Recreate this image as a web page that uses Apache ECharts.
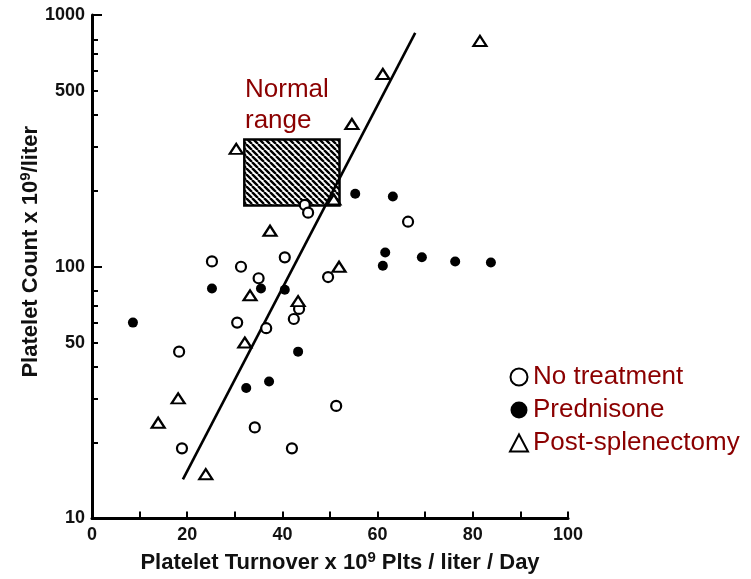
<!DOCTYPE html>
<html><head><meta charset="utf-8">
<script src="https://cdn.jsdelivr.net/npm/echarts@6/dist/echarts.min.js"></script>
<style>html,body{margin:0;padding:0;background:#fff}#c{width:751px;height:579px}</style>
</head><body><div id="c"></div>
<script>
// ---- data ----
const xLabelStep = 20;
const yTickValues = [10,20,30,40,50,60,70,80,100,200,300,400,500,600,700,800,1000];
const yDecadeTicks = [10,100,1000];
const yLabelValues = [10,50,100,500,1000];

const noTreatX = [25.2, 31.3, 35.0, 40.5, 30.5, 36.6, 43.5, 42.4, 49.6, 18.3, 18.9, 34.2, 42.0, 51.3, 44.7, 45.4, 66.4];
const noTreatY = [105, 100, 90, 109, 60, 57, 68, 62, 91, 46, 19, 23, 19, 28, 176, 164, 151];
const predX = [8.6, 25.2, 35.5, 40.5, 43.3, 37.2, 32.4, 55.3, 63.2, 61.6, 61.1, 69.3, 76.3, 83.8];
const predY = [60, 82, 82, 81, 46, 35, 33, 195, 190, 114, 101, 109, 105, 104];
const splenX = [81.5, 61.1, 54.6, 30.3, 50.8, 37.4, 51.9, 33.2, 43.3, 32.1, 18.1, 13.9, 23.9];
const splenY = [789, 583, 369, 294, 185, 139, 100, 77, 73, 50, 30, 24, 15];

const fitX = [19.1, 67.9];
const fitY = [14.3, 849];

const normalX = [32, 52];
const normalY = [175, 320];

const seriesNames = ['No treatment', 'Prednisone', 'Post-splenectomy'];

// ---- helpers ----
const zip = (a, b) => a.map((v, i) => [v, b[i]]);
function hatch() {
  const s = 6, c = document.createElement('canvas');
  c.width = s; c.height = s;
  const g = c.getContext('2d');
  g.fillStyle = '#fff'; g.fillRect(0, 0, s, s);
  g.strokeStyle = '#000'; g.lineWidth = 2.4; g.beginPath();
  for (let k = -1; k <= 1; k++) { g.moveTo(k * s, 0); g.lineTo(k * s + s, s); }
  g.stroke();
  return c;
}

const axisFont = { fontFamily: 'Liberation Sans', fontWeight: 'bold', fontSize: 18, color: '#111' };
const red = '#8b0000';

const chart = echarts.init(document.getElementById('c'), null, { renderer: 'canvas' });
chart.setOption({
  animation: false,
  backgroundColor: '#fff',
  grid: { left: 92, right: 183, top: 15, bottom: 60, containLabel: false },
  xAxis: {
    type: 'value', min: 0, max: 100, interval: 10,
    name: 'Platelet Turnover x 10{sup|9} Plts / liter / Day',
    nameLocation: 'middle', nameGap: 32,
    nameTextStyle: {
      fontFamily: 'Liberation Sans', fontWeight: 'bold', fontSize: 22, color: '#111',
      padding: [0, 0, 0, 20],
      rich: { sup: { fontFamily: 'Liberation Sans', fontWeight: 'bold', fontSize: 15, color: '#111', verticalAlign: 'top', padding: [0, 0, 10, 0] } }
    },
    axisLine: { lineStyle: { color: '#000', width: 3 } },
    axisTick: { inside: true, length: 7, lineStyle: { color: '#000', width: 2 } },
    axisLabel: Object.assign({ margin: 8, formatter: v => (v % xLabelStep === 0 ? String(v) : '') }, axisFont),
    splitLine: { show: false }
  },
  yAxis: [{
    type: 'log', logBase: 10, min: 10, max: 1000,
    name: 'Platelet Count x 10{sup|9}/liter',
    nameLocation: 'middle', nameGap: 49, nameRotate: 90, nameMoveOverlap: false,
    nameTextStyle: {
      fontFamily: 'Liberation Sans', fontWeight: 'bold', fontSize: 22, color: '#111',
      padding: [0, 0, 0, 30],
      rich: { sup: { fontFamily: 'Liberation Sans', fontWeight: 'bold', fontSize: 15, color: '#111', verticalAlign: 'top', padding: [0, 0, 10, 0] } }
    },
    axisLine: { show: true, lineStyle: { color: '#000', width: 3 } },
    axisTick: { show: true, inside: true, length: 6, customValues: yTickValues, lineStyle: { color: '#000', width: 2 } },
    axisLabel: Object.assign({ margin: 7, customValues: yLabelValues, formatter: v => String(Math.round(v)) }, axisFont),
    splitLine: { show: false }
  }, {
    type: 'log', logBase: 10, min: 10, max: 1000, position: 'left',
    axisLine: { show: false },
    axisTick: { show: true, inside: true, length: 10, customValues: yDecadeTicks, lineStyle: { color: '#000', width: 2 } },
    axisLabel: { show: false },
    splitLine: { show: false }
  }],
  legend: {
    orient: 'vertical', left: 504, top: 359,
    itemWidth: 18, itemHeight: 17, itemGap: 7,
    textStyle: { fontFamily: 'Liberation Sans', fontSize: 26, color: red, padding: [0, 0, 0, 0] },
    data: seriesNames
  },
  graphic: [{
    type: 'text', left: 245, top: 74, z: 10,
    style: { text: 'Normal\nrange', font: '26px "Liberation Sans"', fill: red, lineHeight: 31 }
  }],
  series: [
    {
      name: 'normal-range', type: 'line', data: [], z: 1, silent: true,
      markArea: {
        silent: true,
        itemStyle: { color: { image: hatch(), repeat: 'repeat' }, borderColor: '#000', borderWidth: 2.5, opacity: 1 },
        data: [[{ xAxis: normalX[0], yAxis: normalY[1] }, { xAxis: normalX[1], yAxis: normalY[0] }]]
      }
    },
    {
      name: 'fit', type: 'line', data: zip(fitX, fitY), z: 2, symbol: 'none',
      lineStyle: { color: '#000', width: 2.6 }
    },
    {
      name: seriesNames[0], type: 'scatter', data: zip(noTreatX, noTreatY), z: 3,
      symbol: 'circle', symbolSize: 10,
      itemStyle: { color: '#fff', borderColor: '#000', borderWidth: 2.2, opacity: 1 }
    },
    {
      name: seriesNames[1], type: 'scatter', data: zip(predX, predY), z: 3,
      symbol: 'circle', symbolSize: 10,
      itemStyle: { color: '#000', borderColor: '#000', borderWidth: 0, opacity: 1 }
    },
    {
      name: seriesNames[2], type: 'scatter', data: zip(splenX, splenY), z: 3,
      symbol: 'triangle', symbolSize: [13, 10],
      itemStyle: { color: '#fff', borderColor: '#000', borderWidth: 2.2, opacity: 1 }
    }
  ]
});
</script>
</body></html>
